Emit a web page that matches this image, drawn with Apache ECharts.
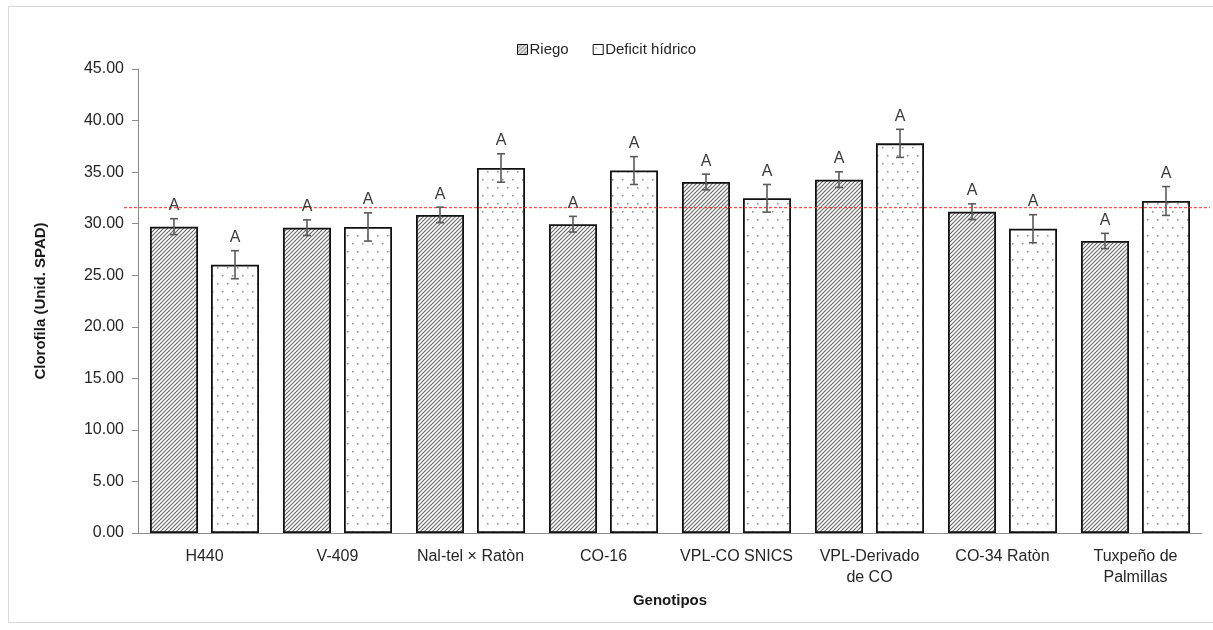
<!DOCTYPE html>
<html><head><meta charset="utf-8">
<script src="https://cdn.jsdelivr.net/npm/echarts@6/dist/echarts.min.js"></script>
<style>html,body{margin:0;padding:0;background:#fff}#c{width:1213px;height:630px}</style>
</head><body><div id="c"></div>
<script>
// ---- data ----
const categories = ['H440', 'V-409', 'Nal-tel × Ratòn', 'CO-16', 'VPL-CO SNICS', 'VPL-Derivado\nde CO', 'CO-34 Ratòn', 'Tuxpeño de\nPalmillas'];
const riego = [29.71, 29.61, 30.85, 29.95, 34.04, 34.27, 31.16, 28.32];
const deficit = [26.02, 29.68, 35.40, 35.15, 32.46, 37.79, 29.51, 32.20];
const riegoErr = [0.77, 0.76, 0.75, 0.76, 0.76, 0.76, 0.76, 0.74];
const deficitErr = [1.36, 1.37, 1.38, 1.35, 1.34, 1.36, 1.36, 1.40];
const riegoLetters = ['A', 'A', 'A', 'A', 'A', 'A', 'A', 'A'];
const deficitLetters = ['A', 'A', 'A', 'A', 'A', 'A', 'A', 'A'];
const referenceValue = [31.55];
const yMin = 0, yMax = 45, yInterval = 5;

// ---- styles ----
const FONT = '"Liberation Sans", Arial, sans-serif';
const BAR_W = 48, BAR_GAP = 13;
function hatchPattern() {
  const c = document.createElement('canvas'); c.width = 4; c.height = 4;
  const g = c.getContext('2d');
  g.fillStyle = '#ffffff'; g.fillRect(0, 0, 4, 4);
  g.strokeStyle = '#6a6a6a'; g.lineWidth = 1.15;
  [[-2, 2, 2, -2], [0, 4, 4, 0], [2, 6, 6, 2]].forEach(l => { g.beginPath(); g.moveTo(l[0], l[1]); g.lineTo(l[2], l[3]); g.stroke(); });
  return c;
}
function dotPattern() {
  const c = document.createElement('canvas'); c.width = 10; c.height = 16;
  const g = c.getContext('2d');
  g.fillStyle = '#ffffff'; g.fillRect(0, 0, 10, 16);
  g.fillStyle = '#8a8a8a';
  g.fillRect(2, 3, 1.5, 1.5);
  g.fillRect(7, 11, 1.5, 1.5);
  return c;
}
const hatch = { image: hatchPattern(), repeat: 'repeat' };
const dots = { image: dotPattern(), repeat: 'repeat' };

function errRender(values, errs, letters, offset) {
  return function (params, api) {
    const i = params.dataIndex;
    const v = values[i], e = errs[i];
    const top = api.coord([i, v + e]);
    const bot = api.coord([i, v - e]);
    const x = Math.round(top[0] + offset);
    const st = { stroke: '#5a5a5a', lineWidth: 1.6 };
    return {
      type: 'group', children: [
        { type: 'line', shape: { x1: x, y1: top[1], x2: x, y2: bot[1] }, style: st },
        { type: 'line', shape: { x1: x - 4, y1: top[1], x2: x + 4, y2: top[1] }, style: st },
        { type: 'line', shape: { x1: x - 4, y1: bot[1], x2: x + 4, y2: bot[1] }, style: st },
        { type: 'text', x: x, y: top[1] - 5, style: { text: letters[i], align: 'center', verticalAlign: 'bottom', font: '16px ' + FONT, fill: '#3a3a3a' } }
      ]
    };
  };
}

const chart = echarts.init(document.getElementById('c'), null, { renderer: 'canvas' });
const off = (BAR_W + BAR_GAP) / 2;
chart.setOption({
  animation: false,
  backgroundColor: '#ffffff',
  graphic: [{ type: 'rect', shape: { x: 8.5, y: 6.5, width: 1220, height: 616 }, style: { fill: 'none', stroke: '#d9d9d9', lineWidth: 1 }, silent: true }],
  legend: {
    top: 37, left: 512, itemWidth: 10, itemHeight: 10, itemGap: 24, icon: 'rect',
    textStyle: { fontFamily: FONT, fontSize: 15, color: '#262626', padding: [0, 0, 0, -3] },
    data: [
      { name: 'Riego', itemStyle: { borderWidth: 1, borderColor: '#111' } },
      { name: 'Deficit hídrico', itemStyle: { borderWidth: 1, borderColor: '#111' } }
    ]
  },
  grid: [
    { left: 138, right: 11, top: 69, bottom: 97 },
    { left: 124, right: 3, top: 69, bottom: 97 }
  ],
  xAxis: [
    {
      type: 'category', data: categories, gridIndex: 0,
      axisLine: { lineStyle: { color: '#8c8c8c', width: 1 } },
      axisTick: { show: false },
      axisLabel: { fontFamily: FONT, fontSize: 16, color: '#262626', margin: 13, lineHeight: 21, interval: 0 },
      name: 'Genotipos', nameLocation: 'middle', nameGap: 58,
      nameTextStyle: { fontFamily: FONT, fontSize: 15, fontWeight: 'bold', color: '#1a1a1a' }
    },
    { type: 'value', gridIndex: 1, min: 0, max: 1, show: false }
  ],
  yAxis: [
    {
      type: 'value', gridIndex: 0, min: yMin, max: yMax, interval: yInterval,
      axisLine: { show: true, lineStyle: { color: '#8c8c8c', width: 1 } },
      axisTick: { show: true, length: 6, lineStyle: { color: '#8c8c8c' } },
      splitLine: { show: false },
      axisLabel: { fontFamily: FONT, fontSize: 16, color: '#262626', margin: 14, formatter: v => v.toFixed(2) },
      name: 'Clorofila (Unid. SPAD)', nameLocation: 'middle', nameGap: 90,
      nameTextStyle: { fontFamily: FONT, fontSize: 15, fontWeight: 'bold', color: '#1a1a1a' }
    },
    { type: 'value', gridIndex: 1, min: yMin, max: yMax, show: false }
  ],
  series: [
    {
      name: 'Riego', type: 'bar', data: riego, barWidth: BAR_W, barGap: (BAR_GAP / BAR_W * 100) + '%',
      itemStyle: { color: hatch, borderColor: '#111', borderWidth: 1.8 }, z: 2
    },
    {
      name: 'Deficit hídrico', type: 'bar', data: deficit, barWidth: BAR_W,
      itemStyle: { color: dots, borderColor: '#111', borderWidth: 1.8 }, z: 2
    },
    {
      type: 'line', xAxisIndex: 1, yAxisIndex: 1, silent: true, symbol: 'none', z: 5,
      data: [[0, referenceValue[0]], [1, referenceValue[0]]],
      lineStyle: { color: '#ff2a2a', width: 1, type: [3, 2] }
    },
    {
      type: 'custom', xAxisIndex: 0, yAxisIndex: 0, silent: true, z: 6,
      data: riego.map((v, i) => [i, v]),
      renderItem: errRender(riego, riegoErr, riegoLetters, -off)
    },
    {
      type: 'custom', xAxisIndex: 0, yAxisIndex: 0, silent: true, z: 6,
      data: deficit.map((v, i) => [i, v]),
      renderItem: errRender(deficit, deficitErr, deficitLetters, off)
    }
  ]
});
</script>
</body></html>
